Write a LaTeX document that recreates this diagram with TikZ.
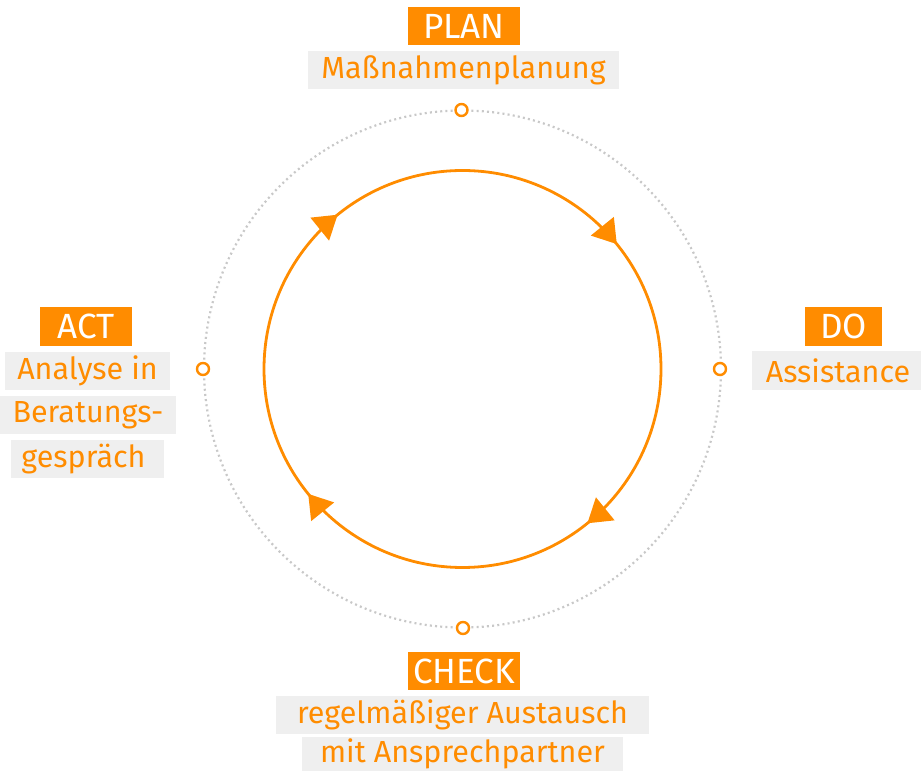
\documentclass[tikz,border=0pt]{standalone}
\usepackage{fontspec}
\setmainfont{Fira Sans}
\usetikzlibrary{arrows.meta,decorations.markings,calc}
\definecolor{pdcaorange}{RGB}{255,140,0}
\definecolor{pdcagray}{RGB}{239,239,239}
\definecolor{dotgray}{RGB}{200,200,200}
\begin{document}
\begin{tikzpicture}[x=1pt,y=1pt,
  titlebox/.style={fill=pdcaorange,text=white,inner sep=0pt,font=\fontsize{35}{40}\selectfont},
  labelbox/.style={fill=pdcagray,text=pdcaorange,inner sep=0pt,minimum height=38,font=\fontsize{30.5}{35}\selectfont},
  portdot/.style={circle,draw=pdcaorange,fill=white,line width=2.4pt,minimum size=12,inner sep=0pt}]
\useasboundingbox (0,0) rectangle (921,771);
\coordinate (c) at (462.5,402);
% outer dotted circle
\draw[dotgray,line width=2.2pt,dash pattern=on 2pt off 3.2pt] (c) circle[radius=258.5];
% inner cycle with arrows
\draw[pdcaorange,line width=2.8pt,
  decoration={markings,
    mark=at position 0.1417 with {\arrow{Triangle[length=23pt,width=29pt]}},
    mark=at position 0.3917 with {\arrow{Triangle[length=23pt,width=29pt]}},
    mark=at position 0.6417 with {\arrow{Triangle[length=23pt,width=29pt]}},
    mark=at position 0.8917 with {\arrow{Triangle[length=23pt,width=29pt]}}},
  postaction={decorate}]
  ($(c)+(198.5,0)$) arc[start angle=0,end angle=-360,radius=198.5];
% port dots
\node[portdot] (pplan) at (461.5,661) {};
\node[portdot] (pdo) at (720,402) {};
\node[portdot] (pcheck) at (463,143) {};
\node[portdot] (pact) at (203,402) {};
% PLAN
\node[titlebox,minimum width=112,minimum height=38] (plan) at (464,745) {PLAN};
\node[labelbox,minimum width=311] (planl) at (463.5,700.5) {Maßnahmenplanung};
% DO
\node[titlebox,minimum width=77,minimum height=39] (do) at (843.5,444.5) {DO};
\node[labelbox,minimum width=169,minimum height=39] (dol) at (836.5,400.5) {\hspace*{3pt}Assistance};
% CHECK
\node[titlebox,minimum width=112,minimum height=38] (check) at (464,100) {CHECK};
\node[labelbox,minimum width=373] (checkl1) at (462.5,56) {regelmäßiger Austausch};
\node[labelbox,minimum width=321,minimum height=34] (checkl2) at (462.5,17) {mit Ansprechpartner};
\fill[pdcagray] (checkl2.south west) rectangle ([yshift=-4pt]checkl2.south east);
% ACT
\node[titlebox,minimum width=92,minimum height=39] (act) at (86,444.5) {ACT};
\node[labelbox,minimum width=165] (actl1) at (87.5,400) {Analyse in};
\node[labelbox,minimum width=176] (actl2) at (88,356) {Beratungs-};
\node[labelbox,minimum width=153] (actl3) at (87.5,312) {gespräch\hspace*{8pt}};
\end{tikzpicture}
\end{document}
